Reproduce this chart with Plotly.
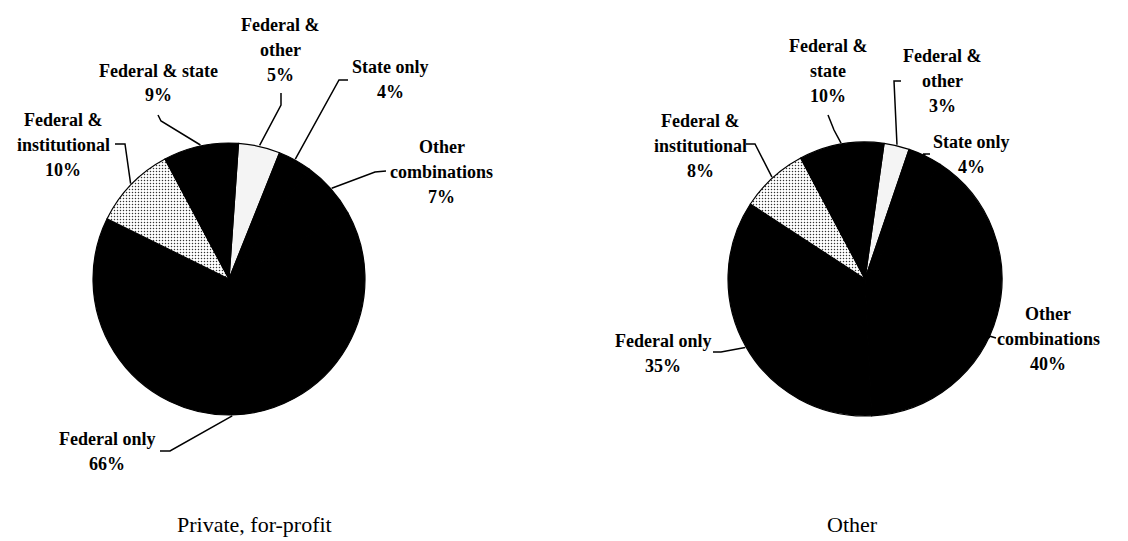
import math
import plotly.graph_objects as go

# ---------------- data ----------------
categories = ["Federal & other", "State only", "Other combinations",
              "Federal only", "Federal & institutional", "Federal & state"]
label_lines_private = [["Federal &", "other"], ["State only"], ["Other", "combinations"],
                       ["Federal only"], ["Federal &", "institutional"], ["Federal & state"]]
label_lines_other = [["Federal &", "other"], ["State only"], ["Other", "combinations"],
                     ["Federal only"], ["Federal &", "institutional"], ["Federal &", "state"]]
values_private = [5, 4, 7, 66, 10, 9]
values_other = [3, 4, 40, 35, 8, 10]
panel_titles = ["Private, for-profit", "Other"]

# ---------------- styling / layout ----------------
W, H = 1128, 541
FONT = "Liberation Serif, Times New Roman, serif"
LINE_STEP = 25
slice_colors = ["#f4f4f4", "#000000", "#000000", "#000000", "#ffffff", "#000000"]
slice_patterns = ["", "", "", "", ".", ""]

# pie geometry in pixels: (cx, cy, r) and start rotation (deg clockwise from 12 o'clock)
pies = [
    dict(values=values_private, texts=label_lines_private, cx=221, cy=271, r=136, rot=4,
         title=panel_titles[0], title_pos=(246, 516),
         label_pos=[(272, 42), (382, 72), (434, 164), (99, 443), (55, 137), (150, 75)],
         leader=[[(273, 85), (273, 97)], [(340, 72), (331, 72)], [(378, 163), (367, 164)],
                 [(152, 443), (162, 443)], [(107, 136), (117, 136)], [(150, 107), (153, 113)]],
         frac=[0.5, 0.5, 0.5, 0.5, 0.5, 0.5]),
    dict(values=values_other, texts=label_lines_other, cx=857, cy=271, r=137, rot=8,
         title=panel_titles[1], title_pos=(844, 516),
         label_pos=[(934, 73), (963, 146), (1040, 331), (655, 345), (692, 138), (820, 63)],
         leader=[[(893, 73), (886, 73)], [(922, 146), (915, 146)], [(988, 330), (978, 327)],
                 [(705, 344), (713, 344)], [(738, 136), (747, 136)], [(820, 107), (826, 122)]],
         frac=[0.5, 0.5, 0.57, 0.5, 0.5, 0.5]),
]


def px(x):
    return x / W


def py(y):
    return 1 - y / H


fig = go.Figure()
annotations = []
shapes = []

for p in pies:
    vals = p["values"]
    total = float(sum(vals))
    cx, cy, r = p["cx"], p["cy"], p["r"]
    fig.add_trace(go.Pie(
        labels=categories,
        values=vals,
        sort=False,
        direction="clockwise",
        rotation=p["rot"],
        textinfo="none",
        hoverinfo="label+percent",
        showlegend=False,
        domain=dict(x=[px(cx - r), px(cx + r)], y=[py(cy + r), py(cy - r)]),
        marker=dict(
            colors=slice_colors,
            line=dict(color="#000000", width=1.2),
            pattern=dict(shape=slice_patterns, fgcolor="#333333", bgcolor="#ffffff",
                         size=3, solidity=0.2),
        ),
    ))
    cum = 0.0
    for i, v in enumerate(vals):
        ang = p["rot"] + 360.0 * (cum + p["frac"][i] * v) / total
        cum += v
        a = math.radians(ang)
        ex = cx + (r + 1) * math.sin(a)
        ey = cy - (r + 1) * math.cos(a)
        pts = p["leader"][i] + [(ex, ey)]
        path = "M " + " L ".join(f"{px(x):.5f},{py(y):.5f}" for x, y in pts)
        shapes.append(dict(type="path", path=path, xref="paper", yref="paper",
                           line=dict(color="#000000", width=1.5)))
        lines = p["texts"][i] + [f"{v}%"]
        lx, ly = p["label_pos"][i]
        n = len(lines)
        for k, t in enumerate(lines):
            yy = ly + (k - (n - 1) / 2.0) * LINE_STEP
            annotations.append(dict(
                x=px(lx), y=py(yy), xref="paper", yref="paper",
                text=f"<b>{t}</b>",
                showarrow=False, xanchor="center", yanchor="middle", align="center",
                font=dict(family=FONT, size=18, color="#000000"),
            ))
    tx, ty = p["title_pos"]
    annotations.append(dict(
        x=px(tx), y=py(ty), xref="paper", yref="paper", text=p["title"],
        showarrow=False, xanchor="center", yanchor="middle", borderpad=0,
        font=dict(family=FONT, size=22, color="#000000"),
    ))

fig.update_layout(
    width=W, height=H,
    margin=dict(l=0, r=0, t=0, b=0),
    paper_bgcolor="#ffffff", plot_bgcolor="#ffffff",
    annotations=annotations,
    shapes=shapes,
    font=dict(family=FONT),
)

fig.write_html("out.html")
